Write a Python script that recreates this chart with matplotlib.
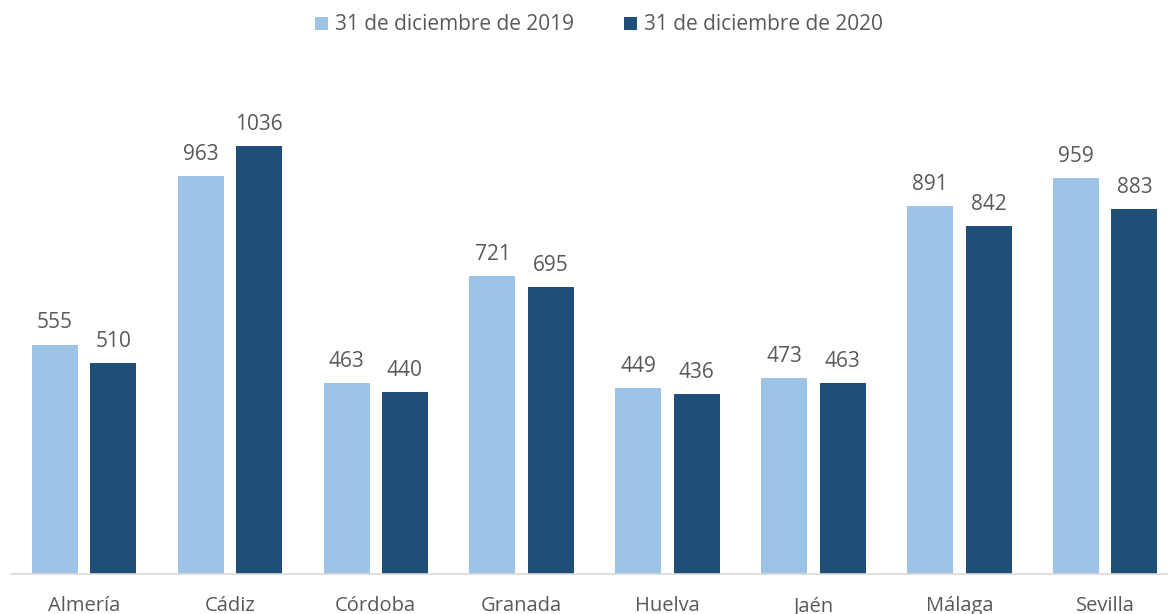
import numpy as np
import matplotlib
matplotlib.use('Agg')
import matplotlib.pyplot as plt

plt.rcParams['font.family'] = ['Open Sans', 'DejaVu Sans']

provincias = ['Almería', 'Cádiz', 'Córdoba', 'Granada', 'Huelva', 'Jaén', 'Málaga', 'Sevilla']
dic_2019 = [555, 963, 463, 721, 449, 473, 891, 959]
dic_2020 = [510, 1036, 440, 695, 436, 463, 842, 883]
series = ['31 de diciembre de 2019', '31 de diciembre de 2020']
colors = ['#9DC3E6', '#1F4E79']
txt = '#595959'

fig = plt.figure(figsize=(11.68, 6.14), dpi=100)
ax = fig.add_axes([11 / 1168, 40 / 614, 1157 / 1168, 496 / 614])

x = np.arange(len(provincias))
w = 0.315
b1 = ax.bar(x - 0.2, dic_2019, w, color=colors[0], label=series[0])
b2 = ax.bar(x + 0.2, dic_2020, w, color=colors[1], label=series[1])

for bars in (b1, b2):
    for r in bars:
        ax.annotate(str(int(r.get_height())), (r.get_x() + r.get_width() / 2, r.get_height()),
                    xytext=(0, 8), textcoords='offset points', ha='center', va='bottom',
                    fontsize=15, color=txt)

ax.set_xlim(-0.5, 7.43)
ax.set_ylim(0, 1200)
ax.set_yticks([])
ax.set_xticks(x)
ax.set_xticklabels(provincias, fontsize=14.5, color=txt)
ax.tick_params(axis='x', length=0, pad=16)
for s in ['top', 'right', 'left']:
    ax.spines[s].set_visible(False)
ax.spines['bottom'].set_color('#D9D9D9')
ax.spines['bottom'].set_linewidth(1.2)

fig.legend(handles=[b1, b2], loc='center', bbox_to_anchor=(599 / 1168, 1 - 25 / 614),
           ncol=2, frameon=False, fontsize=15, labelcolor=txt,
           handlelength=0.6, handleheight=0.6, handletextpad=0.35, columnspacing=2.4)

plt.savefig('out.png', dpi=100)
